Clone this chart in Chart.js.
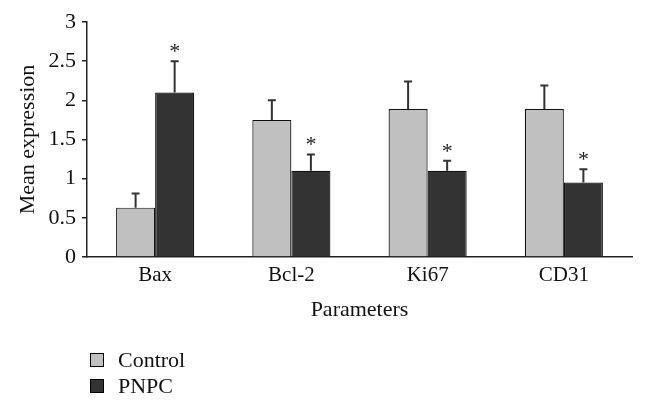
<!DOCTYPE html>
<html>
<head>
<meta charset="utf-8">
<script src="https://cdn.jsdelivr.net/npm/chart.js@4/dist/chart.umd.min.js"></script>
<style>
  html, body { margin: 0; padding: 0; background: #fff; }
  #wrap { position: relative; width: 646px; height: 407px; }
  #legend { position: absolute; left: 90px; top: 347px; font-family: "Liberation Serif", serif; font-size: 22px; color: #111; }
  #legend div { height: 26px; line-height: 24px; display: flex; align-items: center; }
  #legend span.box { display: inline-block; width: 12px; height: 12px; border: 1px solid #000; margin-right: 14px; }
</style>
</head>
<body>
<div id="wrap">
  <canvas id="c" width="646" height="407"></canvas>
  <div id="legend"></div>
</div>
<script>
const categories = ["Bax", "Bcl-2", "Ki67", "CD31"];
const seriesNames = ["Control", "PNPC"];
const controlValues = [0.63, 1.75, 1.89, 1.89];
const controlErrors = [0.18, 0.25, 0.35, 0.30];
const pnpcValues = [2.10, 1.10, 1.10, 0.95];
const pnpcErrors = [0.40, 0.21, 0.13, 0.17];
const pnpcSignificant = [true, true, true, true];
const yTicks = [0, 0.5, 1, 1.5, 2, 2.5, 3];
const colors = ["#c0c0c0", "#333333"];

const FONT = "'Liberation Serif', 'Times New Roman', serif";

const errorBars = {
  id: 'errorBars',
  afterDatasetsDraw(chart) {
    const ctx = chart.ctx;
    const y = chart.scales.y;
    ctx.save();
    chart.data.datasets.forEach((ds, di) => {
      const meta = chart.getDatasetMeta(di);
      meta.data.forEach((bar, i) => {
        const v = ds.data[i];
        const e = ds.errors[i];
        const x = bar.x;
        const yTop = y.getPixelForValue(v + e);
        const yBar = y.getPixelForValue(v);
        ctx.strokeStyle = '#333';
        ctx.lineWidth = 2;
        ctx.beginPath();
        ctx.moveTo(x, yBar);
        ctx.lineTo(x, yTop);
        ctx.moveTo(x - 4, yTop);
        ctx.lineTo(x + 4, yTop);
        ctx.stroke();
        if (ds.significant && ds.significant[i]) {
          ctx.fillStyle = '#222';
          ctx.font = "22px " + FONT;
          ctx.textAlign = 'center';
          ctx.textBaseline = 'alphabetic';
          ctx.fillText('*', x, yTop - 3);
        }
      });
    });
    ctx.restore();
  }
};

const chart = new Chart(document.getElementById('c'), {
  type: 'bar',
  data: {
    labels: categories,
    datasets: [
      { label: seriesNames[0], data: controlValues, errors: controlErrors,
        backgroundColor: colors[0], borderColor: '#111', borderWidth: 1.2 },
      { label: seriesNames[1], data: pnpcValues, errors: pnpcErrors, significant: pnpcSignificant,
        backgroundColor: colors[1], borderColor: '#111', borderWidth: 1.2 }
    ]
  },
  options: {
    responsive: false,
    animation: false,
    devicePixelRatio: 1,
    layout: { padding: { top: 22, right: 14, left: 15, bottom: 80 } },
    datasets: { bar: { categoryPercentage: 0.573, barPercentage: 1.0 } },
    plugins: { legend: { display: false }, tooltip: { enabled: false } },
    scales: {
      x: {
        grid: { display: false, drawTicks: false },
        border: { display: true, color: '#222', width: 1.5 },
        ticks: { color: '#111', font: { family: FONT, size: 21 }, padding: 6 },
        title: { display: true, text: 'Parameters', color: '#111', font: { family: FONT, size: 22 }, padding: { top: 4 } },
        afterFit(s) { s.height = 70; }
      },
      y: {
        min: 0, max: 3,
        afterBuildTicks(s) { s.ticks = yTicks.map(v => ({ value: v })); },
        grid: { drawOnChartArea: false, drawTicks: true, tickLength: 5, color: '#222', lineWidth: 1.5 },
        border: { display: true, color: '#222', width: 1.5 },
        ticks: { color: '#111', font: { family: FONT, size: 22 }, padding: 6,
                 callback: (v) => String(v) },
        title: { display: true, text: 'Mean expression', color: '#111', font: { family: FONT, size: 22 }, padding: 0 },
        afterFit(s) { s.width = 72; }
      }
    }
  },
  plugins: [errorBars]
});

const leg = document.getElementById('legend');
seriesNames.forEach((n, i) => {
  const d = document.createElement('div');
  const b = document.createElement('span');
  b.className = 'box';
  b.style.background = colors[i];
  d.appendChild(b);
  d.appendChild(document.createTextNode(n));
  leg.appendChild(d);
});
</script>
</body>
</html>
